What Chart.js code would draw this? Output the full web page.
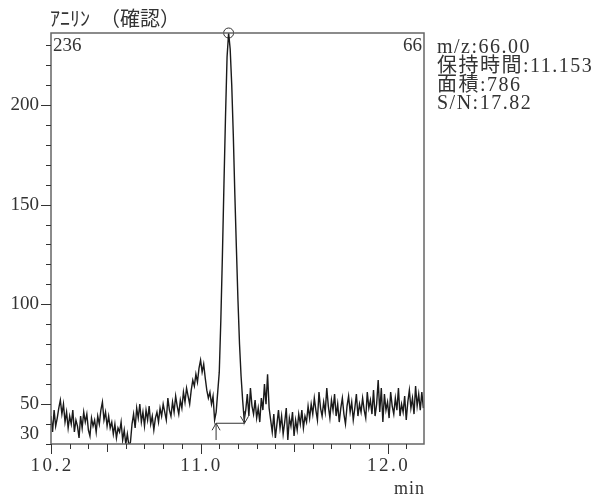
<!DOCTYPE html>
<html lang="ja">
<head>
<meta charset="utf-8">
<script src="https://cdn.jsdelivr.net/npm/chart.js@4.4.1/dist/chart.umd.min.js"></script>
<style>
html, body { margin: 0; padding: 0; background: #fff; }
#chromatogram { display: block; }
</style>
</head>
<body>
<canvas id="chromatogram" width="603" height="501"></canvas>
<script>
// アニリン m/z 66 の抽出イオンクロマトグラム
const compoundName = 'ｱﾆﾘﾝ　（確認）';
const massLabel = '66';
const infoLines = ['m/z:66.00', '保持時間:11.153', '面積:786', 'S/N:17.82'];

// スキャン開始時間 (min) と間隔
const scanStart = 10.2;
const scanStep = 1 / 120;

// 各スキャンの強度
const intensity = [
  44, 36, 47, 39, 43, 48, 52, 45, 50, 41, 46, 38, 44, 40, 47, 36, 42, 39, 33, 44,
  38, 46, 41, 45, 37, 34, 43, 39, 42, 36, 44, 40, 47, 51, 42, 46, 39, 44, 38, 41,
  35, 40, 33, 38, 36, 41, 32, 37, 30, 35, 29, 31, 40, 45, 38, 48, 43, 50, 41, 46,
  39, 47, 42, 49, 40, 44, 37, 43, 46, 41, 48, 44, 50, 46, 42, 53, 47, 44, 51, 46,
  54, 49, 45, 52, 48, 56, 51, 58, 54, 50, 57, 62, 59, 65, 61, 68, 72, 66, 70, 63,
  57, 53, 56, 50, 54, 42, 46, 56, 66, 92, 124, 160, 194, 224, 236, 228, 210, 185, 155, 128,
  102, 80, 64, 52, 42, 47, 55, 44, 58, 49, 45, 52, 43, 48, 41, 53, 47, 60, 50, 65,
  48, 42, 36, 45, 33, 40, 47, 38, 44, 35, 41, 48, 32, 43, 39, 46, 34, 42, 37, 45,
  40, 47, 38, 44, 41, 49, 43, 50, 45, 53, 47, 42, 56, 48, 44, 51, 46, 58, 49, 43,
  52, 47, 55, 44, 50, 41, 48, 53, 45, 40, 49, 54, 46, 51, 42, 48, 55, 44, 50, 46,
  53, 47, 43, 56, 48, 52, 45, 57, 44, 50, 62, 46, 58, 41, 55, 47, 51, 43, 56, 49,
  45, 53, 47, 58, 44, 50, 46, 54, 42, 51, 57, 48, 53, 45, 59, 49, 55, 47, 56, 48
];

// ピーク積分のベースライン (開始, 終了) と高さ
const baselineTimes = [11.083, 11.235];
const baselineLevel = 40.4;

// 軸の範囲と目盛ラベル
const xRange = [10.2, 12.195];
const yRange = [30, 236];
const xTickLabels = [10.2, 11.0, 12.0];
const yTickLabels = [30, 50, 100, 150, 200];

const trace = intensity.map((v, i) => ({ x: scanStart + i * scanStep, y: v }));
const apexIndex = intensity.indexOf(Math.max(...intensity));
const apex = trace[apexIndex];

const serif = '"Liberation Serif", "Noto Sans CJK JP", serif';
const cjk = '"Noto Sans CJK JP", "Liberation Serif", sans-serif';

// 枠・目盛・文字はプラグインで描く
const framePlugin = {
  id: 'frame',
  afterDraw(chart) {
    const { ctx, chartArea: a, scales: { x, y } } = chart;
    ctx.save();

    // 枠
    ctx.strokeStyle = '#666';
    ctx.lineWidth = 1.5;
    ctx.strokeRect(a.left, a.top, a.right - a.left, a.bottom - a.top);

    // 目盛線
    ctx.strokeStyle = '#333';
    ctx.lineWidth = 1;
    ctx.beginPath();
    for (let v = 30; v <= 230; v += 10) {
      const py = Math.round(y.getPixelForValue(v)) + 0.5;
      const len = v % 50 === 0 ? 10 : 5;
      ctx.moveTo(a.left - len, py);
      ctx.lineTo(a.left, py);
    }
    for (let k = 102; k <= 121; k++) {
      const px = Math.round(x.getPixelForValue(k / 10)) + 0.5;
      const len = (k % 10 === 0 || k === 102) ? 10 : (k % 5 === 0 ? 8 : 5);
      ctx.moveTo(px, a.bottom);
      ctx.lineTo(px, a.bottom + len);
    }
    ctx.stroke();

    // ベースラインの矢印
    const bx0 = x.getPixelForValue(baselineTimes[0]);
    const bx1 = x.getPixelForValue(baselineTimes[1]);
    const by = y.getPixelForValue(baselineLevel);
    ctx.beginPath();
    ctx.moveTo(bx0, a.bottom - 4);
    ctx.lineTo(bx0, by);
    ctx.moveTo(bx0 - 4, by + 7);
    ctx.lineTo(bx0, by);
    ctx.lineTo(bx0 + 4, by + 7);
    ctx.moveTo(bx1, by - 12);
    ctx.lineTo(bx1, by);
    ctx.moveTo(bx1 - 4, by - 7);
    ctx.lineTo(bx1, by);
    ctx.lineTo(bx1 + 4, by - 7);
    ctx.stroke();

    // 軸ラベル
    ctx.fillStyle = '#333';
    ctx.font = '19px ' + serif;
    ctx.textBaseline = 'middle';
    ctx.textAlign = 'right';
    yTickLabels.forEach(v => {
      const py = v === yRange[0] ? a.bottom - 10 : y.getPixelForValue(v);
      ctx.fillText(String(v), a.left - 12, py);
    });
    ctx.letterSpacing = '2.5px';
    ctx.textAlign = 'center';
    xTickLabels.forEach(t => {
      ctx.fillText(t.toFixed(1), x.getPixelForValue(t) + 1, a.bottom + 22);
    });
    ctx.font = '18px ' + serif;
    ctx.letterSpacing = '1px';
    ctx.textAlign = 'right';
    ctx.fillText('min', a.right + 1, a.bottom + 45);

    // 最大強度と m/z
    ctx.letterSpacing = '0px';
    ctx.font = '19px ' + serif;
    ctx.textAlign = 'left';
    ctx.fillText(String(apex.y), a.left + 2, a.top + 13);
    ctx.textAlign = 'right';
    ctx.fillText(massLabel, a.right - 2, a.top + 13);

    // 化合物名
    ctx.font = '20px ' + cjk;
    ctx.textAlign = 'left';
    ctx.fillText(compoundName, a.left - 1, 18);

    // ピーク情報
    ctx.font = '20px ' + serif;
    ctx.letterSpacing = '1.5px';
    infoLines.forEach((line, i) => {
      ctx.fillText(line, a.right + 13, 48 + i * 18.7);
    });
    ctx.restore();
  }
};

new Chart(document.getElementById('chromatogram'), {
  type: 'line',
  data: {
    datasets: [
      {
        data: trace,
        borderColor: '#1a1a1a',
        borderWidth: 1.4,
        pointRadius: 0,
        tension: 0
      },
      {
        data: baselineTimes.map(t => ({ x: t, y: baselineLevel })),
        borderColor: '#333',
        borderWidth: 1,
        pointRadius: 0
      },
      {
        data: [apex],
        showLine: false,
        pointRadius: 5,
        pointBorderColor: '#333',
        pointBackgroundColor: 'rgba(0,0,0,0)',
        pointBorderWidth: 1,
        clip: false
      }
    ]
  },
  options: {
    responsive: false,
    devicePixelRatio: 1,
    animation: false,
    layout: { padding: { left: 51, top: 33, right: 179, bottom: 57 } },
    plugins: { legend: { display: false }, tooltip: { enabled: false } },
    scales: {
      x: { type: 'linear', min: xRange[0], max: xRange[1], display: false },
      y: { min: yRange[0], max: yRange[1], display: false }
    }
  },
  plugins: [framePlugin]
});
</script>
</body>
</html>
